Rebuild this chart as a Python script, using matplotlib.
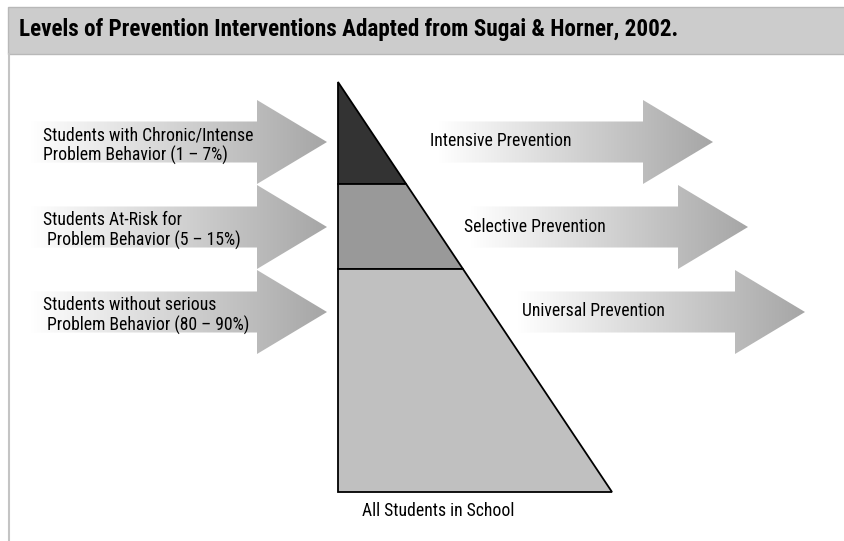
import matplotlib.pyplot as plt
import numpy as np
from matplotlib.patches import Polygon, Rectangle
from matplotlib.colors import LinearSegmentedColormap

# labels of the diagram
title = "Levels of Prevention Interventions Adapted from Sugai & Horner, 2002."
student_groups = [
    "Students with Chronic/Intense\nProblem Behavior (1 \u2013 7%)",
    "Students At-Risk for\n Problem Behavior (5 \u2013 15%)",
    "Students without serious\n Problem Behavior (80 \u2013 90%)",
]
interventions = ["Intensive Prevention", "Selective Prevention", "Universal Prevention"]
base_label = "All Students in School"

plt.rcParams['font.family'] = ['Roboto Condensed', 'DejaVu Sans']

fig = plt.figure(figsize=(8.45, 5.41), dpi=100)
ax = fig.add_axes([0, 0, 1, 1])
ax.set_xlim(0, 845)
ax.set_ylim(541, 0)
ax.axis('off')

grad = LinearSegmentedColormap.from_list('g', ['#ffffff', '#a6a6a6'])
fs = 12.7


def arrow(x0, x1, yc, head=70, body_h=41, head_h=84):
    xb = x1 - head
    pts = [(x0, yc - body_h / 2), (xb, yc - body_h / 2), (xb, yc - head_h / 2), (x1, yc),
           (xb, yc + head_h / 2), (xb, yc + body_h / 2), (x0, yc + body_h / 2)]
    poly = Polygon(pts, closed=True, facecolor='none', edgecolor='none')
    ax.add_patch(poly)
    g = np.linspace(0, 1, 256).reshape(1, -1)
    im = ax.imshow(g, cmap=grad, aspect='auto', extent=[x0, x1, yc + head_h / 2, yc - head_h / 2],
                   interpolation='bilinear', zorder=1)
    im.set_clip_path(poly)


# header band and left border
ax.add_patch(Rectangle((8, 7), 845, 47, facecolor='#cccccc', edgecolor='#b8b8b8', lw=1, zorder=0))
ax.plot([9, 9], [54, 541], color='#c4c4c4', lw=1.5)
ax.text(19, 36.3, title, fontsize=16.7, fontweight='bold', va='baseline', ha='left')

centers = [142, 227, 312]

# left arrows and labels
for yc, lab in zip(centers, student_groups):
    arrow(30, 327, yc)
    for i, line in enumerate(lab.split('\n')):
        ax.text(43, yc - 2 + i * 20.5, line, fontsize=fs, va='baseline', ha='left', zorder=3)

# right arrows and labels
right_start = [438, 470, 517]
right_tip = [713, 748, 805]
text_x = [430, 464, 522]
for yc, x0, x1, tx, lab in zip(centers, right_start, right_tip, text_x, interventions):
    arrow(x0, x1, yc)
    ax.text(tx, yc + 4.5, lab, fontsize=fs, va='baseline', ha='left', zorder=3)

# triangle tiers
apex = (338, 82)
bottom_y = 492
right_x = 612


def edge_x(y):
    return apex[0] + (right_x - apex[0]) * (y - apex[1]) / (bottom_y - apex[1])


tier_bounds = [82, 184, 269, 492]
tier_colors = ['#333333', '#999999', '#c0c0c0']
for (ya, yb), c in zip(zip(tier_bounds[:-1], tier_bounds[1:]), tier_colors):
    pts = [(apex[0], ya), (edge_x(ya), ya), (edge_x(yb), yb), (apex[0], yb)]
    ax.add_patch(Polygon(pts, closed=True, facecolor=c, edgecolor='black', lw=1.3, zorder=2))

ax.text(362, 516.5, base_label, fontsize=fs, va='baseline', ha='left')

fig.savefig('out.png', dpi=100)
